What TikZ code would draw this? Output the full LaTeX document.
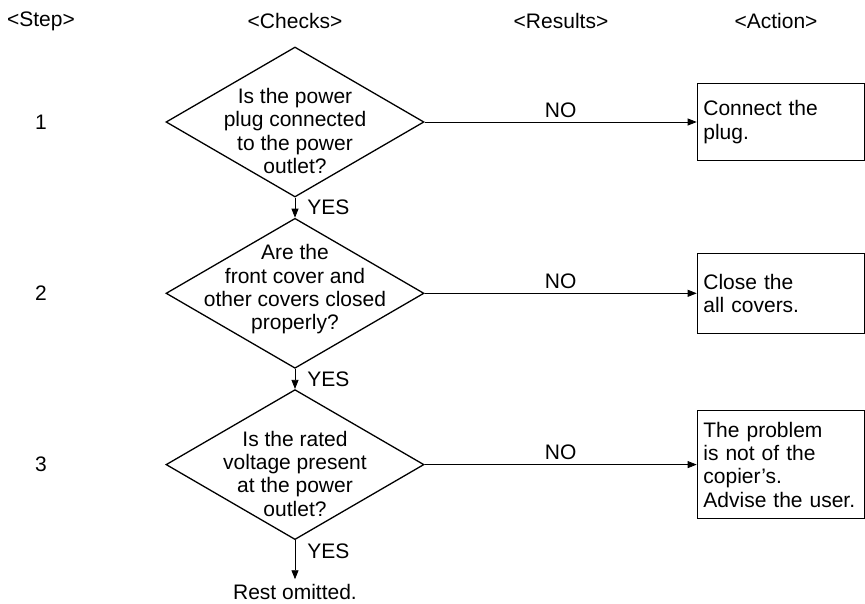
\documentclass[tikz,border=0pt]{standalone}
\usepackage{fontspec}
\setmainfont{Liberation Sans}
\usepackage{tikz}
\usetikzlibrary{arrows.meta, positioning, shapes.geometric}

\begin{document}
\begin{tikzpicture}[
  x=1pt, y=1pt,
  node distance=20pt and 10pt,
  every node/.style={font=\fontsize{21pt}{23.3pt}\selectfont, inner sep=2pt},
  check/.style={diamond, draw, line width=1.3pt, minimum width=258pt, minimum height=150pt, inner sep=0pt},
  action/.style={draw, line width=1.5pt, text width=155pt, inner xsep=6pt, align=left},
  arrow/.style={line width=0.8pt, -{Triangle[length=9pt, width=7pt]}},
]
\useasboundingbox (0,0) rectangle (865,-604);

% Column heads
\node (h1) at (41,-21) {<Step>};
\node (h2) at (295,-21) {<Checks>};
\node (h3) at (561,-21) {<Results>};
\node (h4) at (776,-21) {<Action>};

% Checks
\node[check] (d1) at (295,-122) {};
\node[check, below=of d1] (d2) {};
\node[check, below=of d2] (d3) {};
\node[align=center] (t1) at ([yshift=-9pt]d1.center) {Is the power\\plug connected\\to the power\\outlet?};
\node[align=center] (t2) at ([yshift=4pt]d2.center) {Are the\\front cover and\\other covers closed\\properly?};
\node[align=center] (t3) at ([yshift=-9pt]d3.center) {Is the rated\\voltage present\\at the power\\outlet?};
\node[below=42pt of d3] (rest) {Rest omitted.};

% Steps
\node (s1) at (h1 |- d1) {1};
\node (s2) at (h1 |- d2) {2};
\node (s3) at (h1 |- d3) {3};

% Actions
\node[action, minimum height=77pt, right=272pt of d1] (b1) {Connect the\\plug.};
\node[action, minimum height=80pt, right=272pt of d2] (b2) {Close the\\all covers.};
\node[action, minimum height=108pt, right=272pt of d3] (b3) {The problem\\is not of the\\copier's.\\Advise the user.};

% Arrows
\draw[arrow] (d1) -- node[right=10pt] (y1) {YES} (d2);
\draw[arrow] (d2) -- node[right=10pt] (y2) {YES} (d3);
\draw[arrow, shorten >=3pt] (d3) -- node[right=10pt, pos=0.27] (y3) {YES} (rest);
\draw[arrow] (d1) -- node[above=2pt] (n1) {NO} (b1);
\draw[arrow] (d2) -- node[above=2pt] (n2) {NO} (b2);
\draw[arrow] (d3) -- node[above=2pt] (n3) {NO} (b3);
\end{tikzpicture}
\end{document}
